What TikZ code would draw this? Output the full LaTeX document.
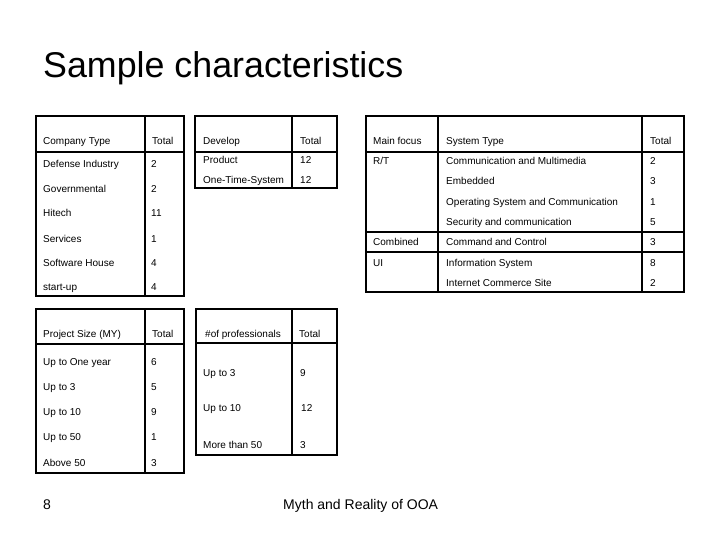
\documentclass[tikz,border=0pt]{standalone}
\usepackage{fontspec}
\setmainfont{Liberation Sans}
\begin{document}
\begin{tikzpicture}[x=1pt,y=-1pt,
  tb/.style={line width=1.3pt},
  tx/.style={anchor=base west, inner sep=0pt, font=\fontsize{10}{11}\selectfont}]
\useasboundingbox[fill=white] (0,0) rectangle (720,540);
% title
\node[anchor=base west, inner sep=0pt, font=\fontsize{35.8}{40}\selectfont] (title) at (43,78) {Sample characteristics};
% table 1
\draw[tb] (36,116) rectangle (184,296);
\draw[tb] (145,116) -- (145,296);
\draw[tb] (36,152) -- (184,152);
\node[tx] (a0) at (43,145) {Company Type};   \node[tx] (b0) at (152,145) {Total};
\node[tx] (a1) at (43,168) {Defense Industry}; \node[tx] (b1) at (151,168) {2};
\node[tx] (a2) at (43,193) {Governmental};     \node[tx] (b2) at (151,193) {2};
\node[tx] (a3) at (43,217) {Hitech};           \node[tx] (b3) at (151,217) {11};
\node[tx] (a4) at (43,242) {Services};         \node[tx] (b4) at (151,242) {1};
\node[tx] (a5) at (43,266) {Software House};   \node[tx] (b5) at (151,266) {4};
\node[tx] (a6) at (43,290) {start-up};         \node[tx] (b6) at (151,290) {4};
% table 2
\draw[tb] (195,116) rectangle (337,188);
\draw[tb] (292,116) -- (292,188);
\draw[tb] (195,152) -- (337,152);
\node[tx] (c0) at (203,145) {Develop};         \node[tx] (d0) at (300,145) {Total};
\node[tx] (c1) at (203,164) {Product};         \node[tx] (d1) at (300,164) {12};
\node[tx] (c2) at (203,184) {One-Time-System}; \node[tx] (d2) at (300,184) {12};
% table 3
\draw[tb] (366,116) rectangle (684,292);
\draw[tb] (438,116) -- (438,292);
\draw[tb] (642,116) -- (642,292);
\draw[tb] (366,152) -- (684,152);
\draw[tb] (366,232) -- (684,232);
\draw[tb] (366,252) -- (684,252);
\node[tx] (e0) at (373,145) {Main focus}; \node[tx] (f0) at (446,145) {System Type}; \node[tx] (g0) at (650,145) {Total};
\node[tx] (e1) at (373,165) {R/T}; \node[tx] (f1) at (446,165) {Communication and Multimedia}; \node[tx] (g1) at (650,165) {2};
\node[tx] (f2) at (446,185) {Embedded}; \node[tx] (g2) at (650,185) {3};
\node[tx] (f3) at (446,205.5) {Operating System and Communication}; \node[tx] (g3) at (650,205.5) {1};
\node[tx] (f4) at (446,225.5) {Security and communication}; \node[tx] (g4) at (650,225.5) {5};
\node[tx] (e5) at (373,245.5) {Combined}; \node[tx] (f5) at (446,245.5) {Command and Control}; \node[tx] (g5) at (650,245.5) {3};
\node[tx] (e6) at (373,266) {UI}; \node[tx] (f6) at (446,266) {Information System}; \node[tx] (g6) at (650,266) {8};
\node[tx] (f7) at (446,286.5) {Internet Commerce Site}; \node[tx] (g7) at (650,286.5) {2};
% table 4
\draw[tb] (36,309) rectangle (184,473);
\draw[tb] (145,309) -- (145,473);
\draw[tb] (36,344) -- (184,344);
\node[tx] (h0) at (43,337.5) {Project Size (MY)}; \node[tx] (i0) at (152,337.5) {Total};
\node[tx] (h1) at (43,365) {Up to One year}; \node[tx] (i1) at (151,365) {6};
\node[tx] (h2) at (43,390) {Up to 3};        \node[tx] (i2) at (151,390) {5};
\node[tx] (h3) at (43,415) {Up to 10};       \node[tx] (i3) at (151,415) {9};
\node[tx] (h4) at (43,440) {Up to 50};       \node[tx] (i4) at (151,440) {1};
\node[tx] (h5) at (43,466.5) {Above 50};     \node[tx] (i5) at (151,466.5) {3};
% table 5
\draw[tb] (196,309) rectangle (337,455);
\draw[tb] (292,309) -- (292,455);
\draw[tb] (196,343) -- (337,343);
\node[tx] (j0) at (205,337.5) {\#of professionals}; \node[tx] (k0) at (299,337.5) {Total};
\node[tx] (j1) at (203,376.5) {Up to 3};      \node[tx] (k1) at (300,376.5) {9};
\node[tx] (j2) at (203,411.5) {Up to 10};     \node[tx] (k2) at (301,411.5) {12};
\node[tx] (j3) at (203,448.5) {More than 50}; \node[tx] (k3) at (300,448.5) {3};
% footer
\node[anchor=base west, inner sep=0pt, font=\fontsize{14}{16}\selectfont] (pg) at (43,509) {8};
\node[anchor=base west, inner sep=0pt, font=\fontsize{14}{16}\selectfont] (ft) at (283,509) {Myth and Reality of OOA};
\end{tikzpicture}
\end{document}
